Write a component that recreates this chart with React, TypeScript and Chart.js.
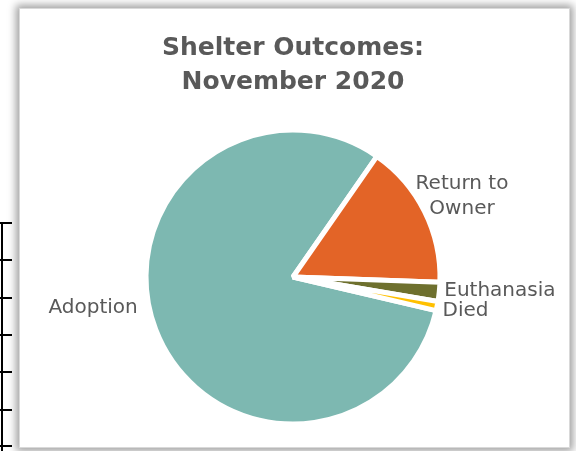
import React, { useEffect, useRef } from "react";
import { Chart, registerables } from "chart.js";

Chart.register(...registerables);

// ---- data ----
const CATEGORIES = ["Adoption", "Return to Owner", "Euthanasia", "Died"];
const LABEL_LINES = [["Adoption"], ["Return to", "Owner"], ["Euthanasia"], ["Died"]];
const SHARES = [81.0, 15.9, 2.1, 1.0];
const TITLE_LINES = ["Shelter Outcomes:", "November 2020"];

// ---- styles ----
const COLORS = ["#7DB8B1", "#E36427", "#6E702E", "#FFC000"];
const TEXT_COLOR = "#595959";
const LABEL_LAYOUT = [
  { dist: 0, dx: -18, dy: -22, align: "right" },
  { dist: 42, dx: 0, dy: 3.5, align: "center" },
  { dist: 0, dx: 5, dy: -1, align: "left" },
  { dist: 0, dx: 5.5, dy: 5, align: "left" },
];
const TABLE_ROWS = [222, 259, 297, 334, 371, 409, 445];

const labelPlugin = {
  id: "sliceLabels",
  afterDatasetsDraw(chart: any) {
    const ctx = chart.ctx;
    const meta = chart.getDatasetMeta(0);
    ctx.save();
    ctx.font = '20px "DejaVu Sans"';
    ctx.fillStyle = TEXT_COLOR;
    ctx.textBaseline = "middle";
    meta.data.forEach((arc: any, i: number) => {
      const p = arc.getProps(["x", "y", "startAngle", "endAngle", "outerRadius"], true);
      const mid = (p.startAngle + p.endAngle) / 2;
      const L = LABEL_LAYOUT[i];
      const r = p.outerRadius + L.dist;
      const x = p.x + Math.cos(mid) * r + L.dx;
      const y = p.y + Math.sin(mid) * r + L.dy;
      const lines = LABEL_LINES[i];
      const lh = 25;
      ctx.textAlign = L.align;
      lines.forEach((t, k) => ctx.fillText(t, x, y + (k - (lines.length - 1) / 2) * lh));
    });
    ctx.restore();
  },
};

export default function App() {
  const canvasRef = useRef<HTMLCanvasElement | null>(null);

  useEffect(() => {
    if (!canvasRef.current) return;
    const chart = new Chart(canvasRef.current, {
      type: "pie",
      data: {
        labels: CATEGORIES,
        datasets: [
          {
            data: SHARES,
            backgroundColor: COLORS,
            borderColor: "#ffffff",
            borderWidth: 5,
            hoverOffset: 0,
          },
        ],
      },
      options: {
        responsive: false,
        animation: false,
        rotation: 103.2,
        radius: 147,
        layout: { padding: { top: 0, bottom: 17, left: 20, right: 10 } },
        plugins: {
          legend: { display: false },
          tooltip: { enabled: false },
          title: {
            display: true,
            text: TITLE_LINES,
            color: TEXT_COLOR,
            font: { family: '"DejaVu Sans"', size: 25, weight: "bold", lineHeight: 1.35 },
            padding: { top: 32, bottom: 20.6 },
          },
        },
      } as any,
      plugins: [labelPlugin],
    });
    return () => chart.destroy();
  }, []);

  return (
    <div
      style={{
        position: "fixed",
        left: 0,
        top: 0,
        width: 576,
        height: 451,
        overflow: "hidden",
        background: "#ffffff",
      }}
    >
      <div
        style={{
          position: "absolute",
          left: 1,
          top: TABLE_ROWS[0],
          width: 2,
          height: 451 - TABLE_ROWS[0],
          background: "#000",
        }}
      />
      {TABLE_ROWS.map((y) => (
        <div
          key={y}
          style={{ position: "absolute", left: 0, top: y, width: 12, height: 2, background: "#000" }}
        />
      ))}
      <div
        style={{
          position: "absolute",
          left: 19,
          top: 8,
          width: 549,
          height: 438,
          border: "1px solid #d9d9d9",
          background: "#ffffff",
          boxShadow: "0 0 8px 3px rgba(0,0,0,0.38)",
        }}
      />
      <canvas
        ref={canvasRef}
        width={576}
        height={451}
        style={{ position: "absolute", left: 0, top: 0 }}
      />
    </div>
  );
}
